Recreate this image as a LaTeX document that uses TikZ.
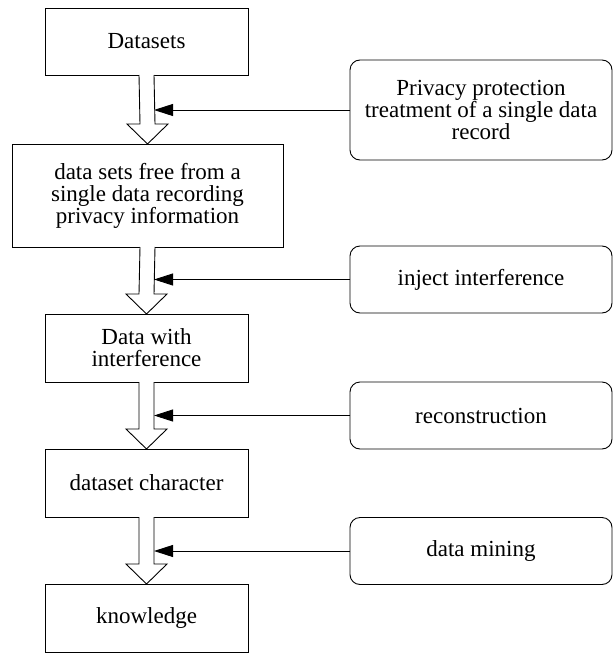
\documentclass[tikz,border=0pt]{standalone}
\usepackage{fontspec}
\setmainfont{Liberation Serif}
\usetikzlibrary{arrows.meta,calc}
\tikzset{
  stage/.style={draw, line width=0.9pt, minimum width=203pt, minimum height=68pt,
    inner sep=0pt, outer sep=0pt, align=center,
    font=\fontsize{23}{22}\selectfont},
  action/.style={stage, rounded corners=10pt, minimum width=262pt, minimum height=67pt},
  feed/.style={line width=0.9pt, -{Triangle[length=19pt,width=12pt]}},
  flow/.style={draw, line width=0.9pt, fill=white}
}
% hollow block arrow from the bottom of one stage to the top of the next
\newcommand\blockarrow[2]{%
  \draw[flow] ($(#1.south)+(-7.5,0)$) -- ($(#2.north)+(-7.5,-20)$)
    -- ($(#2.north)+(-20.5,-20)$) -- (#2.north)
    -- ($(#2.north)+(20.5,-20)$) -- ($(#2.north)+(7.5,-20)$)
    -- ($(#1.south)+(7.5,0)$);}
\begin{document}
\begin{tikzpicture}[x=1pt,y=-1pt]
\useasboundingbox (0,0) rectangle (613,653);
% main pipeline
\node[stage, minimum height=67pt] (d1) at (146.5,41.5) {Datasets};
\node[stage, minimum width=271pt, minimum height=103pt] (d2) at (147.5,195.5)
  {data sets free from a\\single data recording\\privacy information};
\node[stage] (d3) at (146.5,348) {Data with\\interference};
\node[stage] (d4) at (146.5,483) {dataset character};
\node[stage] (d5) at (146.5,618) {knowledge};
% operations applied between stages
\node[action, minimum height=100pt] (r1) at (481,110)
  {Privacy protection\\treatment of a single data\\record};
\node[action] (r2) at (481,279.5) {inject interference};
\node[action] (r3) at (481,415.5) {reconstruction};
\node[action] (r4) at (481,551) {data mining};
% block arrows
\blockarrow{d1}{d2}
\blockarrow{d2}{d3}
\blockarrow{d3}{d4}
\blockarrow{d4}{d5}
% arrow tips meet the right side of each shaft
\coordinate (t1) at ($(r1.west -| d1.south)+(7.5,0)$);
\coordinate (t2) at ($(r2.west -| d1.south)+(7.5,0)$);
\coordinate (t3) at ($(r3.west -| d1.south)+(7.5,0)$);
\coordinate (t4) at ($(r4.west -| d1.south)+(7.5,0)$);
\draw[feed] (r1.west) -- (t1);
\draw[feed] (r2.west) -- (t2);
\draw[feed] (r3.west) -- (t3);
\draw[feed] (r4.west) -- (t4);
\end{tikzpicture}
\end{document}
